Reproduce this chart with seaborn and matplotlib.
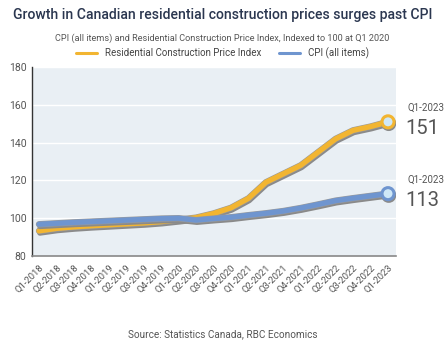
import numpy as np
import pandas as pd
import matplotlib
matplotlib.use("Agg")
import matplotlib.pyplot as plt
import matplotlib.patheffects as pe
import seaborn as sns

quarters = ["Q1-2018", "Q2-2018", "Q3-2018", "Q4-2018", "Q1-2019", "Q2-2019", "Q3-2019",
            "Q4-2019", "Q1-2020", "Q2-2020", "Q3-2020", "Q4-2020", "Q1-2021", "Q2-2021",
            "Q3-2021", "Q4-2021", "Q1-2022", "Q2-2022", "Q3-2022", "Q4-2022", "Q1-2023"]
rcpi = [93.3, 94.6, 95.4, 96.0, 96.5, 97.0, 97.5, 98.2, 99.2, 100.3, 102.5, 105.5,
        110.5, 119.0, 123.5, 128.0, 135.0, 142.0, 146.5, 148.5, 151.0]
cpi = [96.8, 97.3, 97.8, 98.2, 98.6, 99.0, 99.4, 99.8, 100.0, 99.0, 99.8, 100.5,
       101.6, 102.6, 103.8, 105.4, 107.3, 109.3, 110.6, 111.8, 113.0]
series_names = ["Residential Construction Price Index", "CPI (all items)"]
colors = ["#f2b531", "#6f95cf"]
end_labels = ["151", "113"]

df = pd.DataFrame({
    "quarter": quarters * 2,
    "x": list(range(len(quarters))) * 2,
    "value": rcpi + cpi,
    "series": [series_names[0]] * len(quarters) + [series_names[1]] * len(quarters),
})

sns.set_style("white")
plt.rcParams["font.family"] = ["Roboto", "DejaVu Sans"]

fig = plt.figure(figsize=(4.45, 3.43), dpi=100)
ax = fig.add_axes([0.072, 0.2536, 0.818, 0.551])
ax.set_facecolor("#e9eff4")

sns.lineplot(data=df, x="x", y="value", hue="series", palette=colors,
             hue_order=series_names, linewidth=3.8, ax=ax, legend=False, zorder=3)
for line in ax.get_lines():
    line.set_solid_capstyle("round")
    line.set_path_effects([
        pe.SimpleLineShadow(offset=(0.6, -1.6), shadow_color="#8a8a8a", alpha=1.0),
        pe.Stroke(linewidth=4.6, foreground="#9a9a9a"),
        pe.Normal(),
    ])

# end markers
for vals, col in zip([rcpi, cpi], colors):
    ax.scatter([len(quarters) - 1], [vals[-1]], s=75, facecolor="#cfe8f7",
               edgecolor=col, linewidth=2.2, zorder=5,
               path_effects=[pe.SimpleLineShadow(offset=(0.5, -1.2), shadow_color="#8a8a8a", alpha=1.0), pe.Normal()])

ax.set_xlim(-0.4, 20.46)
ax.set_ylim(80, 180)
ax.set_yticks([80, 100, 120, 140, 160, 180])
ax.set_yticklabels(["80", "100", "120", "140", "160", "180"], fontsize=7.5, color="#555555")
ax.yaxis.grid(True, color="white", linewidth=1)
ax.set_axisbelow(True)
ax.set_xticks(range(len(quarters)))
ax.set_xticklabels(quarters, rotation=45, ha="right", rotation_mode="anchor",
                   fontsize=6.8, color="#555555")
ax.tick_params(axis="x", length=3, color="#888888", pad=2)
ax.tick_params(axis="y", length=0, pad=4)
ax.set_xlabel("")
ax.set_ylabel("")
for s in ["top", "right"]:
    ax.spines[s].set_visible(False)
ax.spines["left"].set_color("#333333")
ax.spines["left"].set_linewidth(1.0)
ax.spines["bottom"].set_color("#888888")
ax.spines["bottom"].set_linewidth(1.2)

# right annotations
for vals, lab in zip([rcpi, cpi], end_labels):
    ax.annotate("Q1-2023", xy=(1.0, vals[-1]), xycoords=("axes fraction", "data"),
                xytext=(8, 10), textcoords="offset points", fontsize=7, color="#555555",
                ha="left", va="center", annotation_clip=False)
    ax.annotate(lab, xy=(1.0, vals[-1]), xycoords=("axes fraction", "data"),
                xytext=(7, -5), textcoords="offset points", fontsize=14.5, color="#555555",
                ha="left", va="center", annotation_clip=False)

fig.text(0.5, 0.955, "Growth in Canadian residential construction prices surges past CPI",
         ha="center", va="center", fontsize=10.1, color="#2b3750", fontweight="medium")
fig.text(0.5, 0.89, "CPI (all items) and Residential Construction Price Index, Indexed to 100 at Q1 2020",
         ha="center", va="center", fontsize=6.6, color="#555555")

handles = [plt.Line2D([0], [0], color=c, linewidth=2.2) for c in colors]
fig.legend(handles, series_names, loc="center", bbox_to_anchor=(0.5, 0.845), ncol=2,
           frameon=False, fontsize=7, handlelength=2.2, columnspacing=1.8, handletextpad=0.8,
           labelcolor="#444444")

fig.text(0.5, 0.027, "Source: Statistics Canada, RBC Economics", ha="center", va="center",
         fontsize=7.2, color="#555555")

fig.savefig("out.png", dpi=100)
